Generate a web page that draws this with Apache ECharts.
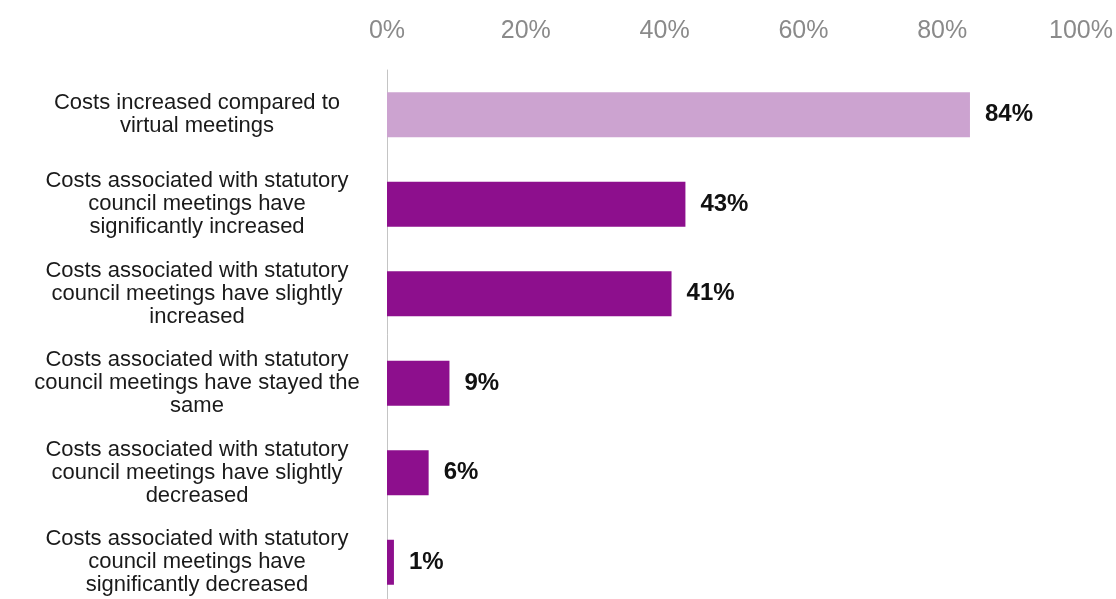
<!DOCTYPE html>
<html>
<head>
<meta charset="utf-8">
<script src="https://cdn.jsdelivr.net/npm/echarts@6/dist/echarts.min.js"></script>
<style>
html,body{margin:0;padding:0;background:#fff;}
#chart{width:1116px;height:599px;}
</style>
</head>
<body>
<div id="chart"></div>
<script>
const categories = [
  "Costs increased compared to\nvirtual meetings",
  "Costs associated with statutory\ncouncil meetings have\nsignificantly increased",
  "Costs associated with statutory\ncouncil meetings have slightly\nincreased",
  "Costs associated with statutory\ncouncil meetings have stayed the\nsame",
  "Costs associated with statutory\ncouncil meetings have slightly\ndecreased",
  "Costs associated with statutory\ncouncil meetings have\nsignificantly decreased"
];
const values = [84, 43, 41, 9, 6, 1];
const xTicks = [0, 20, 40, 60, 80, 100];

const chart = echarts.init(document.getElementById('chart'));
chart.setOption({
  animation: false,
  backgroundColor: '#ffffff',
  textStyle: { fontFamily: 'Liberation Sans, Arial, sans-serif' },
  grid: { left: 387, right: 35, top: 70, height: 537, containLabel: false, outerBoundsMode: 'none' },
  xAxis: {
    type: 'value',
    position: 'top',
    min: xTicks[0],
    max: xTicks[xTicks.length - 1],
    interval: xTicks[1] - xTicks[0],
    axisLine: { show: false },
    axisTick: { show: false },
    splitLine: { show: false },
    axisLabel: {
      formatter: '{value}%',
      fontSize: 25,
      color: '#8a8a8a',
      margin: 26,
      fontFamily: 'Liberation Sans, Arial, sans-serif'
    }
  },
  yAxis: {
    type: 'category',
    inverse: true,
    data: categories,
    axisLine: { show: true, lineStyle: { color: '#c4c4c4', width: 1 } },
    axisTick: { show: false },
    axisLabel: {
      align: 'center',
      margin: 190,
      fontSize: 22,
      lineHeight: 23,
      color: '#1a1a1a',
      padding: [0, 0, 12, 0],
      fontFamily: 'Liberation Sans, Arial, sans-serif'
    }
  },
  series: [{
    type: 'bar',
    data: values,
    barWidth: 45,
    itemStyle: {
      color: function (p) { return p.dataIndex === 0 ? '#cca3d0' : '#8d0f8d'; }
    },
    label: {
      show: true,
      position: 'right',
      distance: 15,
      formatter: '{c}%',
      fontSize: 24,
      fontWeight: 'bold',
      color: '#111',
      fontFamily: 'Liberation Sans, Arial, sans-serif'
    }
  }]
});
</script>
</body>
</html>
